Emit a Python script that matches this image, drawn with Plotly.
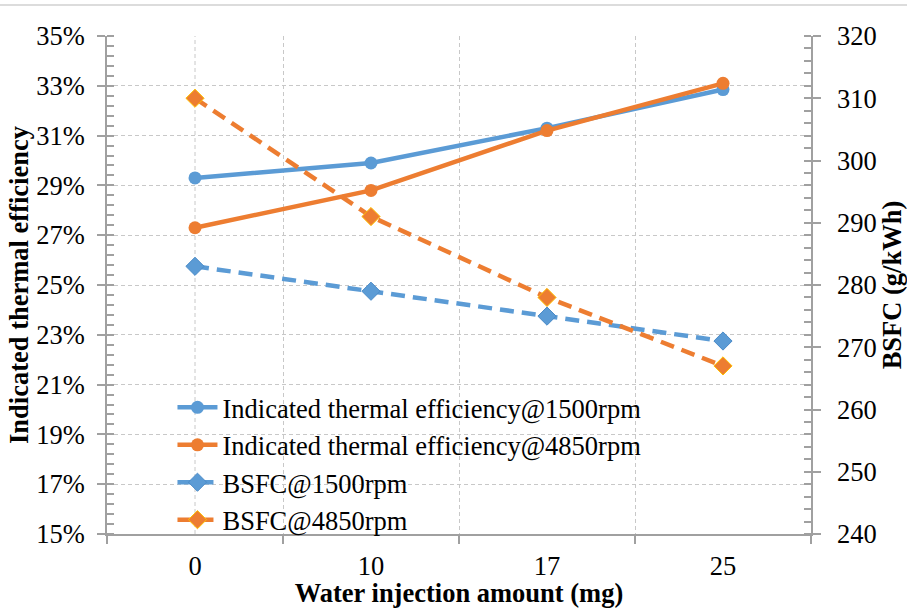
import plotly.graph_objects as go

categories = ["0", "10", "17", "25"]
ite_1500 = [29.3, 29.9, 31.3, 32.85]
ite_4850 = [27.3, 28.8, 31.2, 33.1]
bsfc_1500 = [283, 279, 275, 271]
bsfc_4850 = [310, 291, 278, 267]

left_ticks = [15, 17, 19, 21, 23, 25, 27, 29, 31, 33, 35]
left_tick_text = [f"{v}%" for v in left_ticks]
right_ticks = [240, 250, 260, 270, 280, 290, 300, 310, 320]

BLUE = "#5B9BD5"
ORANGE = "#ED7D31"
FONT = "Liberation Serif"
FS = 26.5
AXC = "#A0A0A0"
GRIDC = "#C8C8C8"
TXT = dict(family=FONT, size=FS, color="black")

fig = go.Figure()
fig.add_trace(go.Scatter(x=categories, y=ite_1500, name="Indicated thermal efficiency@1500rpm",
                         mode="lines+markers", line=dict(color=BLUE, width=4.5),
                         marker=dict(symbol="circle", size=13, color=BLUE), yaxis="y"))
fig.add_trace(go.Scatter(x=categories, y=ite_4850, name="Indicated thermal efficiency@4850rpm",
                         mode="lines+markers", line=dict(color=ORANGE, width=4.5),
                         marker=dict(symbol="circle", size=13, color=ORANGE), yaxis="y"))
fig.add_trace(go.Scatter(x=categories, y=bsfc_1500, name="BSFC@1500rpm",
                         mode="lines+markers", line=dict(color=BLUE, width=4.5, dash="14px,8px"),
                         marker=dict(symbol="diamond", size=14, color=BLUE,
                                     line=dict(color="#4A8BC8", width=1)), yaxis="y2"))
fig.add_trace(go.Scatter(x=categories, y=bsfc_4850, name="BSFC@4850rpm",
                         mode="lines+markers", line=dict(color=ORANGE, width=4.5, dash="14px,8px"),
                         marker=dict(symbol="diamond", size=14, color=ORANGE,
                                     line=dict(color="#FFC000", width=1)), yaxis="y2"))

# vertical dashed gridlines at category centres
for c in categories:
    fig.add_shape(type="line", xref="x", yref="paper", x0=c, x1=c, y0=0, y1=1,
                  line=dict(color=GRIDC, width=1, dash="4px,3px"), layer="below")

# top frame line of the image
fig.add_shape(type="line", xref="paper", yref="paper", x0=-0.16, x1=1.15, y0=1.062, y1=1.062,
              line=dict(color="#D0D0D0", width=1.5))

fig.update_layout(
    width=907, height=608,
    margin=dict(l=107, r=96, t=36, b=74, autoexpand=False),
    paper_bgcolor="white", plot_bgcolor="white",
    font=TXT,
    showlegend=True,
    legend=dict(x=0.093, y=0.302, xanchor="left", yanchor="top",
                bgcolor="rgba(0,0,0,0)", font=TXT,
                itemwidth=40, tracegroupgap=0),
    xaxis=dict(type="category", range=[-0.5, 3.5], tickson="boundaries", automargin=False,
               showgrid=True, gridcolor=GRIDC, griddash="4px,3px", gridwidth=1,
               showline=True, linecolor=AXC, linewidth=1.5,
               ticks="outside", ticklen=8, tickcolor=AXC, tickwidth=1.5,
               ticklabelstandoff=7, tickfont=TXT,
               title=dict(text="<b>Water injection amount (mg)</b>", standoff=3, font=TXT)),
    yaxis=dict(range=[15, 35], tickvals=left_ticks, ticktext=left_tick_text, automargin=False,
               showgrid=True, gridcolor=GRIDC, griddash="4px,3px", gridwidth=1,
               showline=True, linecolor=AXC, linewidth=1.5,
               ticks="outside", ticklen=8, tickcolor=AXC, tickwidth=1.5,
               minor=dict(ticks="inside", ticklen=7, tickcolor=AXC, tickwidth=1.5,
                          dtick=0.4, tick0=15, showgrid=False),
               ticklabelstandoff=7, zeroline=False, tickfont=TXT,
               title=dict(text="<b>Indicated thermal efficiency</b>", standoff=0, font=TXT)),
    yaxis2=dict(range=[240, 320], tickvals=right_ticks, overlaying="y", side="right",
                automargin=False,
                showgrid=False, showline=True, linecolor=AXC, linewidth=1.5,
                ticks="outside", ticklen=8, tickcolor=AXC, tickwidth=1.5,
                minor=dict(ticks="inside", ticklen=7, tickcolor=AXC, tickwidth=1.5,
                           dtick=2, tick0=240, showgrid=False),
                ticklabelstandoff=11, zeroline=False, tickfont=TXT,
                title=dict(text="<b>BSFC (g/kWh)</b>", standoff=9, font=TXT)),
)

fig.write_html("out.html", config={"displayModeBar": False},
               post_script="document.body.style.margin='0';")
